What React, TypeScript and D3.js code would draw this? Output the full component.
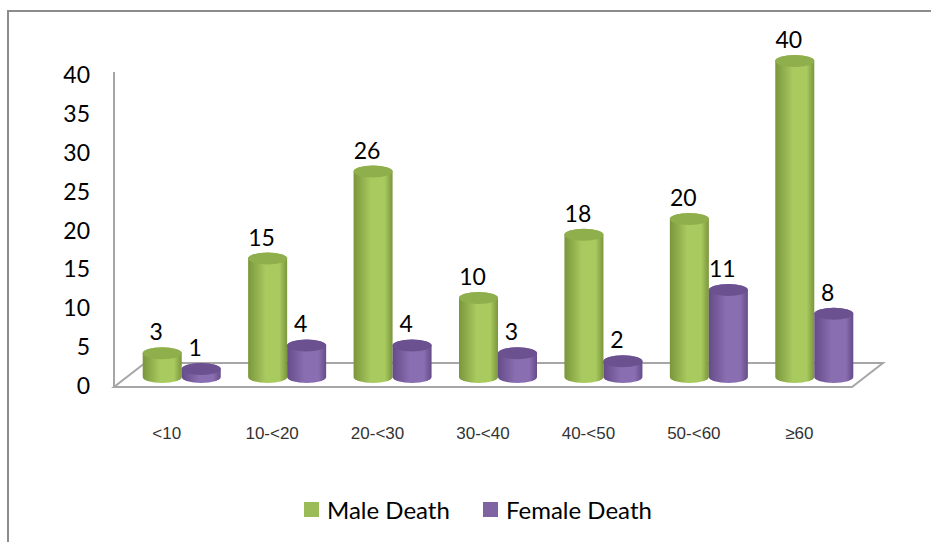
// Male / female deaths by age group, 3D cylinder column chart
import React from 'react';
import * as d3 from 'd3';

const categories = ['<10', '10-<20', '20-<30', '30-<40', '40-<50', '50-<60', '≥60'];
const maleDeaths = [3, 15, 26, 10, 18, 20, 40];
const femaleDeaths = [1, 4, 4, 3, 2, 11, 8];
const yTicks = [0, 5, 10, 15, 20, 25, 30, 35, 40];
const seriesNames = ['Male Death', 'Female Death'];

const width = 931;
const height = 542;
// front edge of the floor and the 3D depth offset
const plotLeft = 114;
const plotRight = 852;
const floorY = 387;
const depthX = 30;
const depthY = -24;

const green = { top: '#8fae4c', dark: '#7a963c', light: '#a9ca5f', legend: '#9bbb59' };
const purple = { top: '#6b5190', dark: '#654c88', light: '#8a6eb2', legend: '#8064a2' };

const App: React.FC = () => {
  const x0 = d3.scaleBand<string>()
    .domain(categories)
    .range([plotLeft, plotRight])
    .paddingInner(0.26)
    .paddingOuter(0.13);

  const x1 = d3.scaleBand<string>()
    .domain(seriesNames)
    .range([0, x0.bandwidth()]);

  // bars stand half way into the floor, tick labels sit on the front plane
  const yBar = d3.scaleLinear().domain([0, 40]).range([377, 61]);
  const yAxis = d3.scaleLinear().domain([0, 40]).range([385, 74]);

  const rx = x1.bandwidth() / 2;
  const ry = 6;

  const cylinder = (cx: number, yTop: number, yBase: number) =>
    `M${cx - rx},${yTop} L${cx - rx},${yBase} A${rx},${ry} 0 0 0 ${cx + rx},${yBase} ` +
    `L${cx + rx},${yTop} A${rx},${ry} 0 0 0 ${cx - rx},${yTop} Z`;

  const series = [
    { name: seriesNames[0], values: maleDeaths, color: green, grad: 'gMale' },
    { name: seriesNames[1], values: femaleDeaths, color: purple, grad: 'gFemale' },
  ];

  const floorPts = [
    [plotLeft, floorY],
    [plotRight, floorY],
    [plotRight + depthX + 1, floorY + depthY],
    [plotLeft + depthX + 1, floorY + depthY],
  ];

  const valueFont = 'Lato, "Open Sans", sans-serif';

  return (
    <svg width={width} height={height} style={{ position: 'absolute', left: 0, top: 0, background: '#fff' }}>
      <defs>
        {series.map((s) => (
          <linearGradient key={s.grad} id={s.grad} x1="0" x2="1" y1="0" y2="0">
            <stop offset="0" stopColor={s.color.dark} />
            <stop offset="0.45" stopColor={s.color.light} />
            <stop offset="0.8" stopColor={s.color.light} />
            <stop offset="1" stopColor={s.color.dark} />
          </linearGradient>
        ))}
      </defs>

      {/* outer frame */}
      <rect x={8} y={11} width={width + 20} height={height + 20} fill="none" stroke="#8c8c8c" strokeWidth={2} />

      {/* floor and vertical axis */}
      <polygon points={floorPts.map((p) => p.join(',')).join(' ')} fill="#fff" stroke="#a6a6a6" strokeWidth={2} />
      <line x1={plotLeft} x2={plotLeft} y1={72} y2={floorY} stroke="#a6a6a6" strokeWidth={2} />

      {/* y tick labels */}
      {yTicks.map((t) => (
        <text key={t} x={90} y={yAxis(t)} textAnchor="end" dominantBaseline="central"
          fontFamily={valueFont} fontSize={23} fill="#000">
          {t}
        </text>
      ))}

      {/* cylinders */}
      {categories.map((c, i) => (
        <g key={c}>
          {series.map((s) => {
            const cx = (x0(c) ?? 0) + (x1(s.name) ?? 0) + rx + depthX / 2;
            const v = s.values[i];
            const yTop = yBar(v);
            const yBase = yBar(0);
            return (
              <g key={s.name}>
                <path d={cylinder(cx, yTop, yBase)} fill={`url(#${s.grad})`} />
                <ellipse cx={cx} cy={yTop} rx={rx} ry={ry} fill={s.color.top} />
                <text x={cx - 6} y={yTop - 22} textAnchor="middle" dominantBaseline="central"
                  fontFamily={valueFont} fontSize={23} fill="#000">
                  {v}
                </text>
              </g>
            );
          })}
        </g>
      ))}

      {/* category labels */}
      {categories.map((c) => (
        <text key={c} x={(x0(c) ?? 0) + x0.bandwidth() / 2} y={433} textAnchor="middle" dominantBaseline="central"
          fontFamily='"Liberation Sans", Arial, sans-serif' fontSize={17} fill="#333">
          {c}
        </text>
      ))}

      {/* legend */}
      {series.map((s, i) => {
        const lx = i === 0 ? 304 : 483;
        return (
          <g key={s.name}>
            <rect x={lx} y={502} width={15} height={15} fill={s.color.legend} />
            <text x={lx + 23} y={509} dominantBaseline="central" fontFamily={valueFont} fontSize={24} fill="#000">
              {s.name}
            </text>
          </g>
        );
      })}
    </svg>
  );
};

export default App;
